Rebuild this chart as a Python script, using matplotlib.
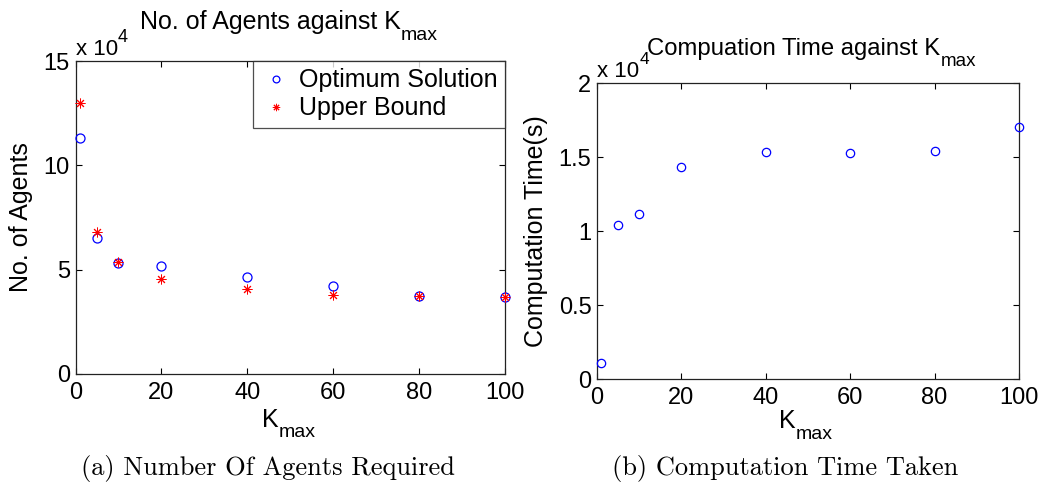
import matplotlib
matplotlib.use("Agg")
import matplotlib.pyplot as plt

plt.rcParams['font.family'] = ['Liberation Sans', 'DejaVu Sans']

# Data
kmax = [1, 5, 10, 20, 40, 60, 80, 100]
agents_optimum = [113000, 65000, 53000, 51900, 46600, 42200, 37500, 36900]
agents_upper = [129700, 67900, 53800, 45400, 40600, 38000, 37200, 36900]
comp_time = [1060, 10380, 11150, 14320, 15320, 15270, 15380, 17050]

left_yticks = [0, 5, 10, 15]
right_yticks = [0, 0.5, 1, 1.5, 2]
right_yticklabels = ['0', '0.5', '1', '1.5', '2']
xticks = [0, 20, 40, 60, 80, 100]

fig = plt.figure(figsize=(10.46, 4.87), dpi=100)
W, H = 1046, 487

def px_axes(l, t, r, b):
    return fig.add_axes([l / W, 1 - b / H, (r - l) / W, (b - t) / H])

ax1 = px_axes(75.5, 61, 505, 374)
ax2 = px_axes(597, 83, 1019, 379)

fs = 18
tfs = 17
for ax in (ax1, ax2):
    ax.tick_params(direction='in', top=True, right=True, labelsize=tfs, length=4, width=0.8)
    ax.tick_params(axis='x', pad=6)
    ax.tick_params(axis='y', pad=4)
    for s in ax.spines.values():
        s.set_linewidth(0.9)
        s.set_color('#222222')
    ax.set_xlim(0, 100)
    ax.set_xticks(xticks)

# Left plot
ax1.plot(kmax, [v / 1e4 for v in agents_optimum], linestyle='none', marker='o',
         markerfacecolor='none', markeredgecolor='blue', markersize=6.5, markeredgewidth=0.9,
         label='Optimum Solution', clip_on=False, zorder=3)
ax1.plot(kmax, [v / 1e4 for v in agents_upper], linestyle='none', marker=(8, 2, 0),
         color='red', markersize=7, markeredgewidth=0.7,
         label='Upper Bound', clip_on=False, zorder=4)
ax1.set_ylim(0, 15)
ax1.set_yticks(left_yticks)
ax1.set_ylabel('No. of Agents', fontsize=fs, labelpad=8)
leg = ax1.legend(loc='upper right', fontsize=fs, frameon=True, fancybox=False,
                 borderaxespad=0, handletextpad=0.32, borderpad=0.3, labelspacing=0.15,
                 handlelength=1.2, markerscale=0.75)
leg.get_frame().set_edgecolor('#222222')
leg.get_frame().set_linewidth(0.9)

# Right plot
ax2.plot(kmax, [v / 1e4 for v in comp_time], linestyle='none', marker='o',
         markerfacecolor='none', markeredgecolor='blue', markersize=6, markeredgewidth=0.9,
         clip_on=False, zorder=3)
ax2.set_ylim(0, 2)
ax2.set_yticks(right_yticks)
ax2.set_yticklabels(right_yticklabels)
ax2.set_ylabel('Computation Time(s)', fontsize=fs, labelpad=8)

# Composite texts with MATLAB-style subscripts / superscripts (pixel positions)
pieces = []

def composite(main, extra, x_px, base_px, fs_main, fs_extra, dy_px, anchor='center'):
    t1 = fig.text(0, 0, main, fontsize=fs_main, ha='left', va='baseline')
    t2 = fig.text(0, 0, extra, fontsize=fs_extra, ha='left', va='baseline')
    pieces.append((t1, t2, x_px, base_px, dy_px, anchor))

composite('No. of Agents against K', 'max', 288.5, 28.5, fs, 14, 12)
composite('Compuation Time against K', 'max', 811.5, 54.5, 17.2, 13.5, 12)
composite('K', 'max', 289, 426.7, fs, 14, 10)
composite('K', 'max', 806, 428, fs, 14, 11)
composite('x 10', '4', 76, 55, 16, 13, -13, anchor='left')
composite('x 10', '4', 597, 77, 16, 12.5, -13, anchor='left')

fig.canvas.draw()
r = fig.canvas.get_renderer()
for t1, t2, x_px, base_px, dy_px, anchor in pieces:
    w1 = t1.get_window_extent(r).width
    w2 = t2.get_window_extent(r).width
    x0 = x_px - (w1 + w2) / 2 if anchor == 'center' else x_px
    t1.set_position((x0 / W, 1 - base_px / H))
    t2.set_position(((x0 + w1) / W, 1 - (base_px + dy_px) / H))

# Captions
fig.text(268 / W, 1 - 468 / H, '(a) Number Of Agents Required', fontsize=19,
         family='cmr10', ha='center', va='center')
fig.text(785 / W, 1 - 468 / H, '(b) Computation Time Taken', fontsize=19,
         family='cmr10', ha='center', va='center')

fig.savefig('out.png', dpi=100)
